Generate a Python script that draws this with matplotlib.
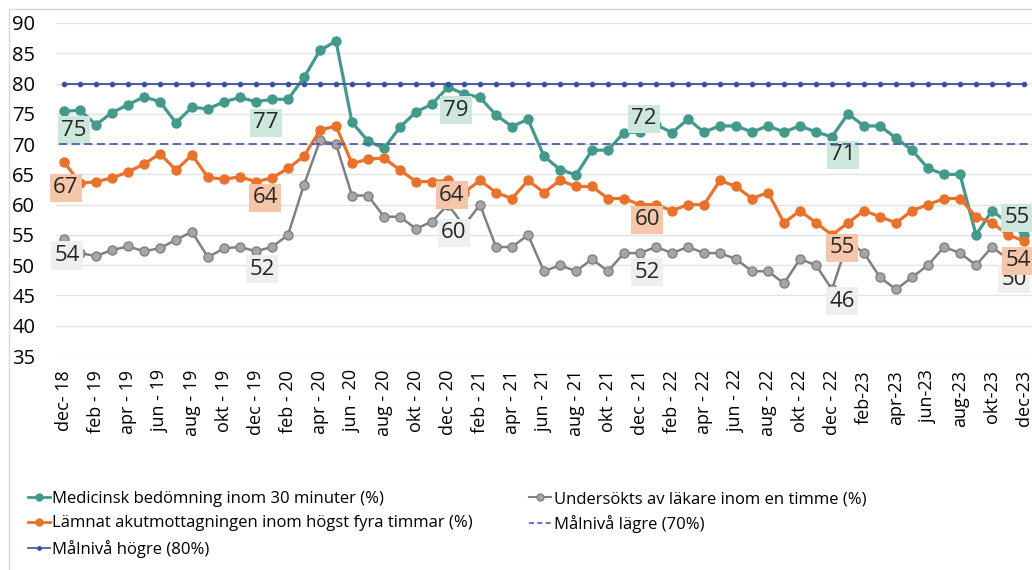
import matplotlib.pyplot as plt
from matplotlib.lines import Line2D
from matplotlib.patches import Rectangle

plt.rcParams['font.family'] = ['Open Sans', 'DejaVu Sans']

# ---- data (monthly, dec-18 .. dec-23)
month_labels = ["dec- 18", "feb - 19", "apr - 19", "jun - 19", "aug - 19", "okt - 19",
                "dec - 19", "feb - 20", "apr - 20", "jun - 20", "aug - 20", "okt - 20",
                "dec - 20", "feb - 21", "apr - 21", "jun - 21", "aug - 21", "okt - 21",
                "dec - 21", "feb - 22", "apr - 22", "jun - 22", "aug - 22", "okt - 22",
                "dec - 22", "feb-23", "apr-23", "jun-23", "aug-23", "okt-23", "dec-23"]

medicinsk = [75.4, 75.6, 73.2, 75.2, 76.5, 77.8, 77.0, 73.5, 76.1, 75.8,
             77.0, 77.7, 77.0, 77.4, 77.4, 81.0, 85.5, 87.0, 73.6, 70.5,
             69.3, 72.8, 75.3, 76.6, 79.4, 78.3, 77.7, 74.8, 72.9, 74.1,
             68.0, 65.8, 64.9, 69.0, 69.0, 71.9, 72.0, 73.2, 71.9, 74.1,
             72.0, 73.0, 73.0, 72.0, 73.0, 72.0, 73.0, 72.0, 71.2, 75.0,
             73.0, 73.0, 71.0, 69.0, 66.0, 65.0, 65.0, 55.0, 59.0, 57.0,
             55.0]

lamnat = [67.1, 63.5, 63.8, 64.4, 65.4, 66.7, 68.4, 65.7, 68.2, 64.5,
          64.2, 64.6, 63.8, 64.4, 66.0, 68.0, 72.3, 73.0, 66.8, 67.5,
          67.7, 65.7, 63.8, 63.8, 64.0, 62.0, 64.0, 62.0, 61.0, 64.0,
          62.0, 64.0, 63.0, 63.0, 61.0, 61.0, 60.0, 60.0, 59.0, 60.0,
          60.0, 64.0, 63.0, 61.0, 62.0, 57.0, 59.0, 57.0, 55.0, 57.0,
          59.0, 58.0, 57.0, 59.0, 60.0, 61.0, 61.0, 58.0, 57.0, 55.0,
          54.0]

undersokt = [54.4, 52.0, 51.5, 52.5, 53.1, 52.3, 52.8, 54.2, 55.5, 51.3,
             52.8, 53.0, 52.3, 53.0, 55.0, 63.3, 70.6, 70.0, 61.5, 61.5,
             58.0, 58.0, 56.0, 57.2, 60.0, 56.5, 60.0, 53.0, 53.0, 55.0,
             49.0, 50.0, 49.0, 51.0, 49.0, 52.0, 52.0, 53.0, 52.0, 53.0,
             52.0, 52.0, 51.0, 49.0, 49.0, 47.0, 51.0, 50.0, 46.0, 54.0,
             52.0, 48.0, 46.0, 48.0, 50.0, 53.0, 52.0, 50.0, 53.0, 51.0,
             50.0]

mal_hogre = 80
mal_lagre = 70

# which months get a value label (every december)
label_idx = [0, 12, 24, 36, 48, 60]

TEAL = '#439a8c'
ORANGE = '#e8722c'
GRAY = '#808080'
BLUE = '#3d4f9f'


def addLabels(ax, x, y, offsets, bg):
    """Excel-like data labels with a coloured box (offsets in pixels)"""
    for i, (dx, dy) in zip(label_idx, offsets):
        ax.annotate(f"{y[i]:.0f}", xy=(x[i], y[i]), xytext=(dx, dy),
                    textcoords='offset pixels', ha='center', va='center',
                    fontsize=16, color='#262626', annotation_clip=False,
                    bbox=dict(boxstyle='square,pad=0.16', fc=bg, ec='none'))


x = list(range(len(medicinsk)))

fig = plt.figure(figsize=(10.32, 5.70), dpi=100)
ax = fig.add_axes([56 / 1032, 1 - 356 / 570, 1 - 56 / 1032, 333 / 570])

fig.patches.append(Rectangle((9 / 1032, -0.1), 2, 1.1 - 9 / 570, transform=fig.transFigure,
                             fill=False, edgecolor='#d9d9d9', lw=1))

l_med, = ax.plot(x, medicinsk, color=TEAL, lw=2.3, marker='o', ms=6.5, zorder=3)
l_und, = ax.plot(x, undersokt, color=GRAY, lw=1.8, marker='o', ms=6.5,
                 mfc='#a6a6a6', mec=GRAY, zorder=3)
l_lam, = ax.plot(x, lamnat, color=ORANGE, lw=2.3, marker='o', ms=6.5, zorder=3)
l_lag, = ax.plot([-0.3, 60.5], [mal_lagre] * 2, color='#4b5fad', lw=1.3,
                 ls=(0, (4.5, 2.5)), zorder=4)
l_hog, = ax.plot(x, [mal_hogre] * len(x), color=BLUE, lw=1.3, marker='o', ms=3, zorder=4)

addLabels(ax, x, medicinsk, [(10, -19), (10, -21), (8, -23), (4, 13), (11, -18), (-7, 17)],
          '#cde7dd')
addLabels(ax, x, undersokt, [(3, -17), (6, -18), (6, -28), (7, -19), (10, -12), (-10, -14)],
          '#efefef')
addLabels(ax, x, lamnat, [(2, -26), (9, -16), (4, -15), (7, -15), (10, -13), (-6, -20)],
          '#f5c6a9')

ax.set_xlim(-0.5, 60.5)
ax.set_ylim(35, 90)
ax.set_yticks(range(35, 91, 5))
ax.set_xticks(range(0, 61, 2))
ax.set_xticklabels(month_labels, rotation=90, fontsize=13)
ax.tick_params(axis='x', length=0, pad=10, colors='#000000')
ax.tick_params(axis='y', length=0, pad=15, labelsize=14.5)
ax.grid(axis='y', color='#e3e3e3', lw=1)
ax.set_axisbelow(True)
for s in ax.spines.values():
    s.set_visible(False)

names = ["Medicinsk bedömning inom 30 minuter (%)",
         "Lämnat akutmottagningen inom högst fyra timmar (%)",
         "Målnivå högre (80%)",
         "Undersökts av läkare inom en timme (%)",
         "Målnivå lägre (70%)"]
h_med = Line2D([], [], color=TEAL, lw=2, marker='o', ms=5)
h_lam = Line2D([], [], color=ORANGE, lw=2, marker='o', ms=5)
h_hog = Line2D([], [], color=BLUE, lw=1.2, marker='o', ms=2.5)
h_und = Line2D([], [], color=GRAY, lw=1.5, marker='o', ms=5, mfc='#a6a6a6', mec=GRAY)
h_lag = Line2D([], [], color='#4b5fad', lw=1.2, ls=(0, (3, 2)))
fig.legend([h_med, h_lam, h_hog, h_und, h_lag], names, loc='upper left',
           bbox_to_anchor=(28 / 1032, 1 - 491 / 570), ncol=2, frameon=False,
           fontsize=12, handlelength=1.3, handletextpad=0.15, columnspacing=3.4,
           labelspacing=0.5, borderpad=0, borderaxespad=0)

fig.savefig('out.png', dpi=100)
